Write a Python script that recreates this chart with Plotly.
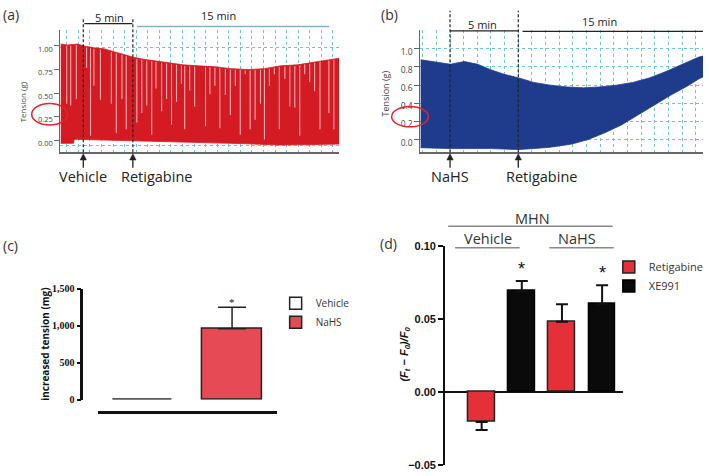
import numpy as np
import plotly.graph_objects as go

W, H = 709, 476
def fx(p): return p / W
def fy(p): return 1 - p / H

FONT = "Open Sans"
GRID = "rgb(110,195,215)"
RED_A = "#d41a22"
DIP_A = "#f4aeb1"
BLUE_B = "#1f3b8c"

# ---------------- (a) vehicle then retigabine (time in min, vehicle = 0) -------------
time_a_top = [-2.3, -1.6, -0.6, 0.07, 1.07, 2.07, 3.07, 4.07, 5.07, 6.07, 7.4, 8.73, 10.07,
              11.6, 13.27, 14.93, 16.6, 18.27, 19.93, 21.6, 23.27, 24.93, 25.8]
tension_a_top = [1.02, 1.01, 1.02, 1.00, 0.98, 0.97, 0.94, 0.91, 0.88, 0.86, 0.84, 0.82, 0.80,
                 0.79, 0.78, 0.76, 0.75, 0.76, 0.79, 0.80, 0.83, 0.86, 0.87]
time_a_bottom = [-2.3, -1.0, -0.9, 1.6, 3.3, 4.9, 6.6, 8.3, 9.9, 11.6, 13.3, 14.9, 16.6, 18.3,
                 19.9, 21.6, 23.3, 24.9, 25.8]
tension_a_bottom = [-0.03, -0.03, 0.013, 0.01, 0.0, -0.003, -0.01, -0.015, -0.02, -0.02, -0.025,
                    -0.03, -0.035, -0.045, -0.048, -0.045, -0.04, -0.038, -0.038]
dip_time_a = [-1.67, -1.27, -0.7, 0.33, 0.73, 1.07, 1.73, 2.83, 3.33, 3.9, 4.33, 5.4, 5.9, 6.4,
              6.9, 7.33, 7.9, 8.4, 8.9, 9.4, 9.9, 10.23, 10.73, 11.23, 12.33, 12.77, 13.27,
              13.77, 14.33, 14.83, 15.33, 15.83, 16.33, 16.83, 17.33, 17.87, 18.27, 18.77,
              19.27, 19.77, 20.33, 20.83, 21.33, 21.83, 22.33, 22.83, 23.33, 23.87, 24.37,
              24.77, 25.27]
dip_min_a = [0.39, 0.37, 0.44, 0.77, 0.05, 0.58, 0.43, 0.39, 0.08, 0.44, 0.12, 0.19, 0.29, 0.37,
             0.06, 0.55, 0.31, 0.44, 0.17, 0.41, 0.60, 0.12, 0.53, 0.36, 0.15, 0.49, 0.58,
             0.13, 0.48, 0.27, 0.58, 0.06, 0.70, 0.12, 0.22, 0.39, 0.01, 0.58, 0.70, 0.12,
             0.65, 0.36, 0.35, 0.05, 0.70, 0.62, 0.52, 0.12, 0.84, 0.29, 0.12]
events_a = [0, 5]
event_labels_a = ["Vehicle", "Retigabine"]
ticks_a = [0.0, 0.25, 0.50, 0.75, 1.00]
ticktext_a = ["0.00", "0.25", "0.50", "0.75", "1.00"]

# ---------------- (b) NaHS then retigabine (time in min, NaHS = 0) -------------
time_b_top = [-2.17, -1.13, 0.03, 1.05, 2.02, 2.98, 3.95, 5.04, 6.13, 7.34, 8.55, 9.76, 10.97,
              12.19, 13.39, 14.60, 15.82, 17.02, 18.24, 18.53]
tension_b_top = [0.88, 0.86, 0.83, 0.86, 0.83, 0.77, 0.72, 0.68, 0.63, 0.60, 0.58, 0.57, 0.58,
                 0.60, 0.63, 0.68, 0.75, 0.83, 0.91, 0.92]
time_b_bottom = [-2.17, 0.03, 2.98, 5.04, 6.13, 7.34, 8.92, 10.12, 11.34, 12.55, 13.75, 14.96,
                 16.18, 17.39, 18.24, 18.53]
tension_b_bottom = [-0.09, -0.10, -0.10, -0.11, -0.10, -0.085, -0.05, 0.0, 0.075, 0.16, 0.27,
                    0.38, 0.49, 0.59, 0.67, 0.69]
events_b = [0, 5]
event_labels_b = ["NaHS", "Retigabine"]
ticks_b = [0.0, 0.2, 0.4, 0.6, 0.8, 1.0]
ticktext_b = ["0.0", "0.2", "0.4", "0.6", "0.8", "1.0"]

# ---------------- (c) increased tension -------------
c_groups = ["Vehicle", "NaHS"]
c_values = [8, 960]
c_errors = [0, 290]
c_colors = ["white", "#e64b55"]
c_sig = [False, True]

# ---------------- (d) (Ft-F0)/F0 -------------
d_groups = ["Vehicle", "NaHS"]
d_retigabine = [-0.0205, 0.048]
d_retigabine_err = [0.0055, 0.012]
d_xe991 = [0.069, 0.060]
d_xe991_err = [0.007, 0.013]
d_xe991_sig = [True, True]

# axis geometry (pixels)
A_X = (61, 342, -2.3, 25.8)
B_X = (424, 709, -2.17, 18.53)

fig = go.Figure()

# (a) trace envelope
fig.add_trace(go.Scatter(
    x=time_a_top + time_a_bottom[::-1], y=tension_a_top + tension_a_bottom[::-1],
    fill="toself", fillcolor=RED_A, mode="lines", line=dict(color=RED_A, width=0.8),
    xaxis="x", yaxis="y", showlegend=False, hoverinfo="skip"))
dip_top = np.interp(dip_time_a, time_a_top, tension_a_top) - 0.01
dx, dy = [], []
for t, lo, hi in zip(dip_time_a, dip_min_a, dip_top):
    dx += [t, t, None]
    dy += [lo, float(hi), None]
fig.add_trace(go.Scatter(x=dx, y=dy, mode="lines", line=dict(color=DIP_A, width=1.1),
                         xaxis="x", yaxis="y", showlegend=False, hoverinfo="skip"))

# (b) trace envelope
fig.add_trace(go.Scatter(
    x=time_b_top + time_b_bottom[::-1], y=tension_b_top + tension_b_bottom[::-1],
    fill="toself", fillcolor=BLUE_B, mode="lines", line=dict(color=BLUE_B, width=0.8),
    xaxis="x2", yaxis="y2", showlegend=False, hoverinfo="skip"))

# (c) bars
for i, g in enumerate(c_groups):
    fig.add_trace(go.Bar(
        x=[g], y=[c_values[i]], name=g, width=0.667, offset=-0.333,
        marker=dict(color=c_colors[i], line=dict(color="#222", width=1.5)),
        error_y=dict(type="data", symmetric=False, array=[c_errors[i]], arrayminus=[0],
                     color="#222", thickness=1.5, width=14, visible=c_errors[i] > 0),
        xaxis="x3", yaxis="y3", legend="legend"))

# (d) bars
def split_err(vals, errs):
    up = [e if v >= 0 else 0 for v, e in zip(vals, errs)]
    dn = [e if v < 0 else 0 for v, e in zip(vals, errs)]
    return up, dn

up, dn = split_err(d_retigabine, d_retigabine_err)
fig.add_trace(go.Bar(
    x=d_groups, y=d_retigabine, name="Retigabine", width=0.333, offset=-0.4167,
    marker=dict(color="#e5303a", line=dict(color="#222", width=1.5)),
    error_y=dict(type="data", symmetric=False, array=up, arrayminus=dn,
                 color="#111", thickness=2, width=6),
    xaxis="x4", yaxis="y4", legend="legend2"))
up, dn = split_err(d_xe991, d_xe991_err)
fig.add_trace(go.Bar(
    x=d_groups, y=d_xe991, name="XE991", width=0.333, offset=0.0833,
    marker=dict(color="#0a0a0a", line=dict(color="#000", width=1.5)),
    error_y=dict(type="data", symmetric=False, array=up, arrayminus=dn,
                 color="#111", thickness=2, width=6),
    xaxis="x4", yaxis="y4", legend="legend2"))

annotations = []
shapes = []

def ann(text, x, y, size=14, color="#222", **kw):
    d = dict(text=text, x=fx(x), y=fy(y), xref="paper", yref="paper", showarrow=False,
             font=dict(family=FONT, size=size, color=color), xanchor="center", yanchor="middle")
    d.update(kw)
    annotations.append(d)

def hline(x0, x1, y, color="#222", width=1.3):
    shapes.append(dict(type="line", xref="paper", yref="paper", x0=fx(x0), x1=fx(x1),
                       y0=fy(y), y1=fy(y), line=dict(color=color, width=width)))

# panel letters
ann("(a)", 1, 9, size=14, color="#333", xanchor="left")
ann("(b)", 382, 9, size=14, color="#333", xanchor="left")
ann("(c)", 1, 246, size=14, color="#333", xanchor="left")
ann("(d)", 381, 244, size=14, color="#333", xanchor="left")

# y titles (a),(b)
ann("Tension (g)", 23, 98, size=8, color="#444", textangle=-90)
ann("Tension (g)", 389, 90, size=9, color="#444", textangle=-90)

# time brackets
ann("5 min", 110, 12, size=11)
ann("15 min", 220, 10, size=11)
hline(85, 133.5, 18)
hline(138, 332, 21, color="#7cb6d4", width=1.5)
ann("5 min", 487, 19, size=11)
ann("15 min", 605, 16, size=11)
hline(454, 523, 25.5)
hline(527, 709, 26)

# event markers (a) and (b): dashed line, arrow, label
for axis, geo, evs, labs, top in (("x", A_X, events_a, event_labels_a, 13),
                                  ("x2", B_X, events_b, event_labels_b, 5)):
    px0, px1, r0, r1 = geo
    unit = (r1 - r0) / (px1 - px0)   # data units per pixel
    hw = 3.2 * unit
    for j, (t, lab) in enumerate(zip(evs, labs)):
        shapes.append(dict(type="line", xref=axis, yref="paper", x0=t, x1=t, y0=fy(150), y1=fy(top),
                           line=dict(color="#222", width=1.2, dash="3px,2px")))
        shapes.append(dict(type="line", xref=axis, yref="paper", x0=t, x1=t, y0=fy(166), y1=fy(156),
                           line=dict(color="#222", width=1.3)))
        shapes.append(dict(type="path", xref=axis, yref="paper",
                           path=f"M {t - hw},{fy(158)} L {t},{fy(151.5)} L {t + hw},{fy(158)} Z",
                           fillcolor="#222", line=dict(color="#222", width=0.5)))
        if j == 0:
            annotations.append(dict(text=lab, x=t, xref=axis, y=fy(175), yref="paper",
                                    showarrow=False, xanchor="center", yanchor="middle",
                                    font=dict(family=FONT, size=14.5, color="#222")))
        else:
            annotations.append(dict(text=lab, x=t, xref=axis, y=fy(175), yref="paper",
                                    showarrow=False, xanchor="left", yanchor="middle", xshift=-14,
                                    font=dict(family=FONT, size=14.5, color="#222")))

# red circles around 0.25 / 0.2 labels
shapes.append(dict(type="circle", xref="paper", yref="paper", x0=fx(32), x1=fx(68),
                   y0=fy(122), y1=fy(100), line=dict(color="#e0252c", width=1.5)))
shapes.append(dict(type="circle", xref="paper", yref="paper", x0=fx(395), x1=fx(432),
                   y0=fy(124), y1=fy(103), line=dict(color="#e0252c", width=1.5)))

# (c) title & significance
ann("<b>increased tension (mg)</b>", 46, 347, size=10, color="#111",
    textangle=-90)
for i, g in enumerate(c_groups):
    if c_sig[i]:
        annotations.append(dict(text="*", x=g, y=c_values[i] + c_errors[i], xref="x3", yref="y3",
                                showarrow=False, yanchor="bottom", yshift=-3,
                                font=dict(family="Liberation Serif", size=11, color="#111")))

# (d) title, groups & significance
ann("<b><i>(F<sub>t</sub> − F<sub>0</sub>)/F<sub>0</sub></i></b>", 408, 357, size=11,
    color="#111", textangle=-90, font=dict(family="Liberation Sans", size=11, color="#111"))
for i, g in enumerate(d_groups):
    if d_xe991_sig[i]:
        annotations.append(dict(text="*", x=i + 0.25, y=d_xe991[i] + d_xe991_err[i], xref="x4",
                                yref="y4", showarrow=False, yanchor="bottom", yshift=0,
                                font=dict(family="Liberation Sans", size=18, color="#111")))
ann("MHN", 537, 218, size=14.5, color="#333")
hline(452, 618, 226, color="#8a8a8a", width=1.5)
ann("Vehicle", 492, 238, size=14.5, color="#333")
hline(459, 524, 248, color="#8a8a8a", width=1.5)
ann("NaHS", 582, 238, size=14.5, color="#333")
hline(554, 619, 248, color="#8a8a8a", width=1.5)

fig.update_layout(
    width=W, height=H, autosize=False, margin=dict(l=0, r=0, t=0, b=0),
    paper_bgcolor="white", plot_bgcolor="white", hovermode=False,
    font=dict(family=FONT, color="#222"),
    annotations=annotations, shapes=shapes,
    xaxis=dict(domain=[fx(A_X[0]), fx(A_X[1])], range=[A_X[2], A_X[3]], anchor="y",
               showline=True, linecolor="#666", linewidth=2, ticks="", showticklabels=False,
               showgrid=True, gridcolor=GRID, griddash="dot", gridwidth=1,
               tickmode="linear", tick0=-1.67, dtick=1.167, zeroline=False),
    yaxis=dict(domain=[fy(150), fy(25)], range=[-0.124, 1.165], anchor="x",
               showline=True, linecolor="#666", linewidth=1.2, ticks="outside", ticklen=5,
               tickwidth=1, tickcolor="#666", tickmode="array", tickvals=ticks_a,
               ticktext=ticktext_a, tickfont=dict(family=FONT, size=7.5, color="#444"),
               showgrid=False, zeroline=False, ticklabelshift=3,
               minor=dict(tickmode="array", tickvals=[-0.05, 0.98], showgrid=True,
                          gridcolor=GRID, griddash="dot", ticks="")),
    xaxis2=dict(domain=[fx(B_X[0]), fx(B_X[1])], range=[B_X[2], B_X[3]], anchor="y2",
                showline=True, linecolor="#666", linewidth=2, ticks="", showticklabels=False,
                showgrid=True, gridcolor=GRID, griddash="dot", gridwidth=1,
                tickmode="linear", tick0=0, dtick=1, zeroline=False),
    yaxis2=dict(domain=[fy(150), fy(25)], range=[-0.14, 1.204], anchor="x2",
                showline=True, linecolor="#666", linewidth=1.2, ticks="outside", ticklen=5,
                tickwidth=1, tickcolor="#666", tickmode="array", tickvals=ticks_b,
                ticktext=ticktext_b, tickfont=dict(family=FONT, size=8.5, color="#444"),
                showgrid=True, gridcolor=GRID, griddash="dot", zeroline=False,
                ticklabelshift=3),
    xaxis3=dict(domain=[fx(99), fx(279)], anchor="free", position=fy(417), type="category",
                range=[-0.5, 1.5], showline=True, linecolor="#111", linewidth=3, ticks="",
                showticklabels=False, showgrid=False, zeroline=False),
    yaxis3=dict(domain=[fy(404), fy(290)], anchor="free", position=fx(82), range=[0, 1500],
                showline=True, linecolor="#111", linewidth=2.5, ticks="outside", ticklen=4,
                tickwidth=2, tickcolor="#111", tickmode="array", tickvals=[0, 500, 1000, 1500],
                ticktext=["0", "500", "1,000", "1,500"],
                tickfont=dict(family="Liberation Serif", size=10, color="#111", weight="bold"),
                showgrid=False, zeroline=False),
    xaxis4=dict(domain=[fx(449), fx(628)], anchor="y4", type="category", range=[-0.704, 1.506],
                showline=False, ticks="", showticklabels=False, showgrid=False, zeroline=False),
    yaxis4=dict(domain=[fy(471), fy(246)], anchor="x4", range=[-0.05, 0.10],
                showline=True, linecolor="#111", linewidth=2, ticks="outside", ticklen=5,
                tickwidth=2, tickcolor="#111", tickmode="array",
                tickvals=[-0.05, 0.0, 0.05, 0.10], ticktext=["−0.05", "0.00", "0.05", "0.10"],
                tickfont=dict(family="Liberation Sans", size=11, color="#111", weight="bold"),
                showgrid=False, zeroline=True, zerolinecolor="#111", zerolinewidth=2),
    legend=dict(x=fx(278), y=fy(290), xanchor="left", yanchor="top", bgcolor="rgba(0,0,0,0)",
                font=dict(family=FONT, size=10, color="#333"), itemwidth=30, tracegroupgap=0),
    legend2=dict(x=fx(614), y=fy(253), xanchor="left", yanchor="top", bgcolor="rgba(0,0,0,0)",
                 font=dict(family=FONT, size=11, color="#333"), itemwidth=30, tracegroupgap=0),
    bargap=0,
)

fig.write_html("out.html", config={"displayModeBar": False},
               post_script="document.body.style.margin='0';document.body.style.overflow='hidden';")
